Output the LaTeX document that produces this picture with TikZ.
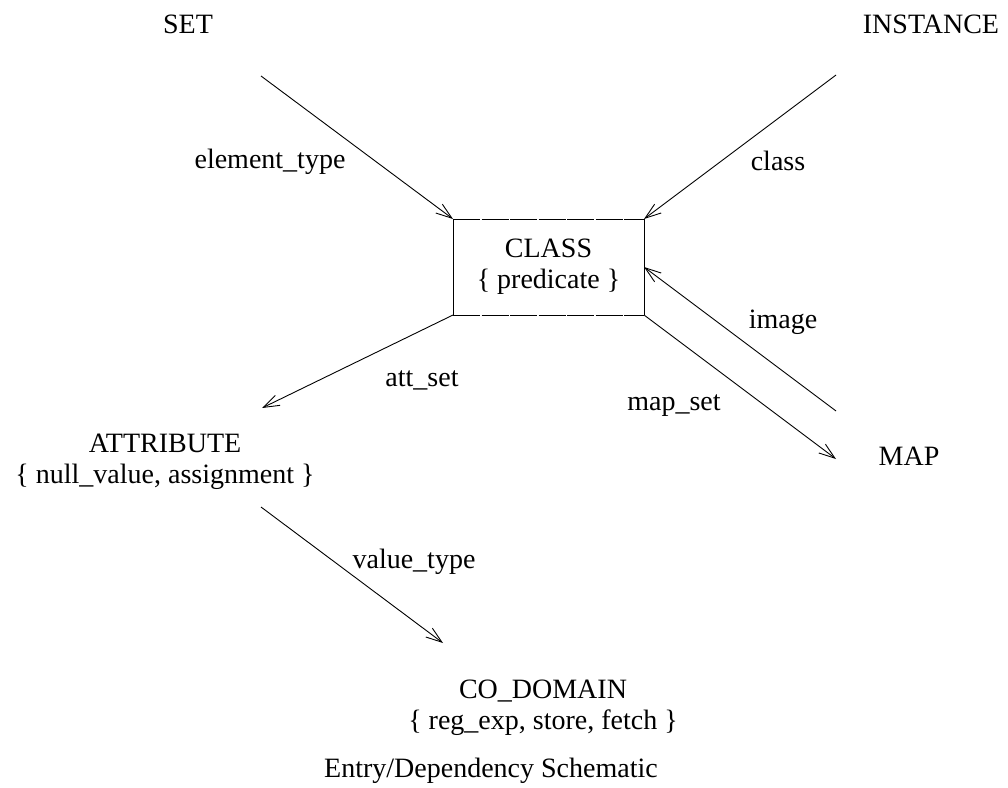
\documentclass[tikz,border=0pt]{standalone}
\usepackage{fontspec}
\setmainfont{Liberation Serif}
\usetikzlibrary{arrows.meta}
\begin{document}
\begin{tikzpicture}[x=1pt,y=-1pt,
  every node/.style={font=\fontsize{28}{31}\selectfont, inner sep=0pt, outer sep=0pt},
  lbl/.style={anchor=base},
  entity/.style={align=center},
  arr/.style={line width=0.9pt, -{Straight Barb[length=16pt,width=11pt,line width=0.9pt]}},
  edge/.style={line width=0.9pt}
]
\useasboundingbox (0,0) rectangle (1008,787);

% top-level labels
\node[lbl] (set) at (188,33) {SET};
\node[lbl] (instance) at (931,33) {INSTANCE};

% central class box
\node[entity, minimum width=191pt, minimum height=96pt] (class) at (548.5,267)
  {CLASS\\\{ predicate \}};
\draw[edge] (class.north west) -- (class.south west);
\draw[edge] (class.north east) -- (class.south east);
\draw[edge, dash pattern=on 27pt off 1.5pt] (class.north west) -- (class.north east);
\draw[edge, dash pattern=on 27pt off 1.5pt] (class.south west) -- (class.south east);

% surrounding entities
\node[entity] (attribute) at (165,462) {ATTRIBUTE\\\{ null\_value, assignment \}};
\node[lbl] (map) at (909,465) {MAP};
\node[entity] (codomain) at (543,708) {CO\_DOMAIN\\\{ reg\_exp, store, fetch \}};
\node[lbl] (caption) at (491,777) {Entry/Dependency Schematic};

% free connector ends
\coordinate (setend) at (261,76);
\coordinate (instend) at (836,75);
\coordinate (attend) at (262,408);
\coordinate (mapend) at (836,459);
\coordinate (imgstart) at (836,411);
\coordinate (valstart) at (261,507);
\coordinate (valend) at (443,643);

% connectors
\draw[arr] (setend) -- (class.north west);
\draw[arr] (instend) -- (class.north east);
\draw[arr] (class.south west) -- (attend);
\draw[arr] (class.south east) -- (mapend);
\draw[arr] (imgstart) -- (class.east);
\draw[arr] (valstart) -- (valend);

% connector labels
\node[lbl] (lelem) at (270,168) {element\_type};
\node[lbl] (lclass) at (778,170) {class};
\node[lbl] (limage) at (783,328) {image};
\node[lbl] (lmapset) at (674,410) {map\_set};
\node[lbl] (lattset) at (422,386) {att\_set};
\node[lbl] (lvalue) at (414,568) {value\_type};
\end{tikzpicture}
\end{document}
